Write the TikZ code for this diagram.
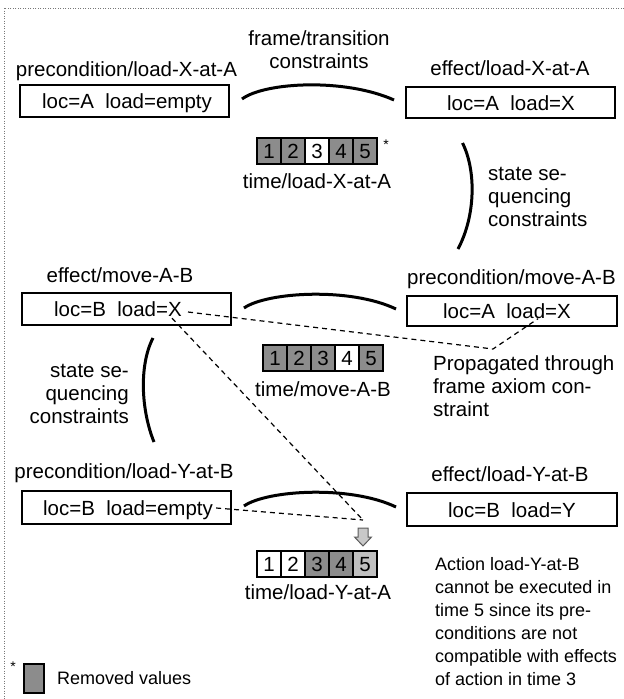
\documentclass[tikz,border=0pt]{standalone}
\usepackage{fontspec}
\setmainfont{Liberation Sans}
\usetikzlibrary{calc}
\definecolor{cellgray}{RGB}{140,140,140}
\definecolor{lightcell}{RGB}{192,192,192}
\definecolor{arrowfill}{RGB}{200,200,200}
\definecolor{arrowline}{RGB}{90,90,90}
\definecolor{dotgray}{RGB}{120,120,120}
\begin{document}
\begin{tikzpicture}[x=1pt,y=-1pt,
  font=\fontsize{20.5}{23}\selectfont,
  stbox/.style={draw, line width=2pt, minimum width=209pt, minimum height=32pt, inner sep=0pt},
  boxtext/.style={inner sep=0pt, text height=15pt, text depth=0pt},
  lbl/.style={inner sep=0pt, anchor=base},
  multi/.style={inner sep=0pt},
  cell/.style={draw, line width=1.6pt, minimum width=24pt, minimum height=26pt, inner sep=0pt, text height=15pt, text depth=0pt},
  curvecon/.style={line width=3pt},
  dline/.style={line width=1.2pt, dash pattern=on 5pt off 4pt},
  starmark/.style={inner sep=0pt, anchor=base, font=\fontsize{14}{16}\selectfont},
  smalltext/.style={font=\fontsize{18}{23}\selectfont}
]
\useasboundingbox (0,0) rectangle (624,699);
% dotted frame
\draw[dotgray, line width=1pt, dash pattern=on 1pt off 1.5pt] (624,8) -- (4,8) -- (4,699);

% state boxes
\node[stbox] (b1) at (124.5,101) {};
\node[stbox, minimum height=31pt] (b2) at (510.5,102.5) {};
\node[stbox] (b3) at (126.5,309) {};
\node[stbox, minimum width=210pt, minimum height=30pt] (b4) at (512,311) {};
\node[stbox, minimum height=33pt] (b5) at (126.5,507.5) {};
\node[stbox, minimum width=210pt, minimum height=33pt] (b6) at (512,509.5) {};

\node[boxtext] (t1) at (127,101) {loc=A\ \ load=empty};
\node[boxtext] (t2) at (511,102.5) {loc=A\ \ load=X};
\node[boxtext] (t3) at (118,309) {loc=B\ \ load=X};
\node[boxtext] (t4) at (507,311) {loc=A\ \ load=X};
\node[boxtext] (t5) at (128,507.5) {loc=B\ \ load=empty};
\node[boxtext] (t6) at (512,509.5) {loc=B\ \ load=Y};

% box labels
\node[lbl] (l1) at (126.5,76) {precondition/load-X-at-A};
\node[lbl] (l2) at (510,75) {effect/load-X-at-A};
\node[lbl] (l3) at (120,282) {effect/move-A-B};
\node[lbl] (l4) at (511.5,284) {precondition/move-A-B};
\node[lbl] (l5) at (124,478) {precondition/load-Y-at-B};
\node[lbl] (l6) at (510,481) {effect/load-Y-at-B};

% constraint texts
\node[multi, anchor=north, align=center] (fr) at (319,30) {frame/transition\\constraints};
\node[multi, anchor=north west, align=left] (ss1) at (488,167) {state se-\\quencing\\constraints};
\node[multi, anchor=north east, align=right] (ss2) at (129,364) {state se-\\quencing\\constraints};
\node[multi, anchor=north west, align=left] (prop) at (433,355) {Propagated through\\frame axiom con-\\straint};
\node[multi, anchor=north west, align=left, smalltext] (act) at (435,557) {Action load-Y-at-B\\cannot be executed in\\time 5 since its pre-\\conditions are not\\compatible with effects\\of action in time 3};

% frame/transition curves
\draw[curvecon] ($(b1.east)+(12,-2)$) .. controls (265,82) and (345,78) .. ($(b2.west)+(-11,-2.5)$);
\draw[curvecon] ($(b3.east)+(12,-1)$) .. controls (267,292) and (350,287) .. ($(b4.west)+(-10,-2)$);
\draw[curvecon] ($(b5.east)+(12,-1.5)$) .. controls (267,490) and (350,485) .. ($(b6.west)+(-10,-2.5)$);

% state sequencing curves
\draw[curvecon] ($(b2.south)+(-48,24)$) .. controls (476,170) and (476,215) .. ($(b4.north)+(-54,-46)$);
\draw[curvecon] ($(b3.south)+(26.5,12)$) .. controls (139,365) and (141,410) .. ($(b5.north)+(27.5,-48)$);

% time domains
\foreach \i/\f in {1/cellgray,2/cellgray,3/white,4/cellgray,5/cellgray}
  \node[cell, fill=\f] (ta\i) at ({257+24*(\i-0.5)},151) {\i};
\foreach \i/\f in {1/cellgray,2/cellgray,3/cellgray,4/white,5/cellgray}
  \node[cell, fill=\f] (tb\i) at ({263+24*(\i-0.5)},358) {\i};
\foreach \i/\f in {1/white,2/white,3/cellgray,4/cellgray,5/lightcell}
  \node[cell, fill=\f] (tc\i) at ({257+24*(\i-0.5)},564) {\i};
\node[starmark] (st1) at (386,149) {*};
\node[lbl] (la) at (317,188) {time/load-X-at-A};
\node[lbl] (lb) at (323,396) {time/move-A-B};
\node[lbl] (lc) at (318,599) {time/load-Y-at-A};

% dashed propagation lines
\coordinate (pv) at (493,349);
\coordinate (m) at (363,520);
\draw[dline] ($(t3.east)+(6,3)$) -- (pv) -- ($(t4.south)+(31,0)$);
\draw[dline] ($(t3.south east)+(-10,1.5)$) -- (m);
\draw[dline] ($(t5.east)+(3,0.5)$) -- (m);

% block arrow
\coordinate (arr) at (363,528);
\draw[arrowline, line width=1pt, fill=arrowfill] (arr) ++(-5,0) -- ++(10,0) -- ++(0,9) -- ++(3.5,0) -- ++(-8.5,9) -- ++(-8.5,-9) -- ++(3.5,0) -- cycle;

% legend
\node[starmark] (st2) at (13,671) {*};
\node[draw, line width=2pt, fill=cellgray, minimum width=20pt, minimum height=29pt, inner sep=0pt] (leg) at (33.5,678) {};
\node[lbl, anchor=base west, smalltext] (legt) at (57,684) {Removed values};
\end{tikzpicture}
\end{document}
